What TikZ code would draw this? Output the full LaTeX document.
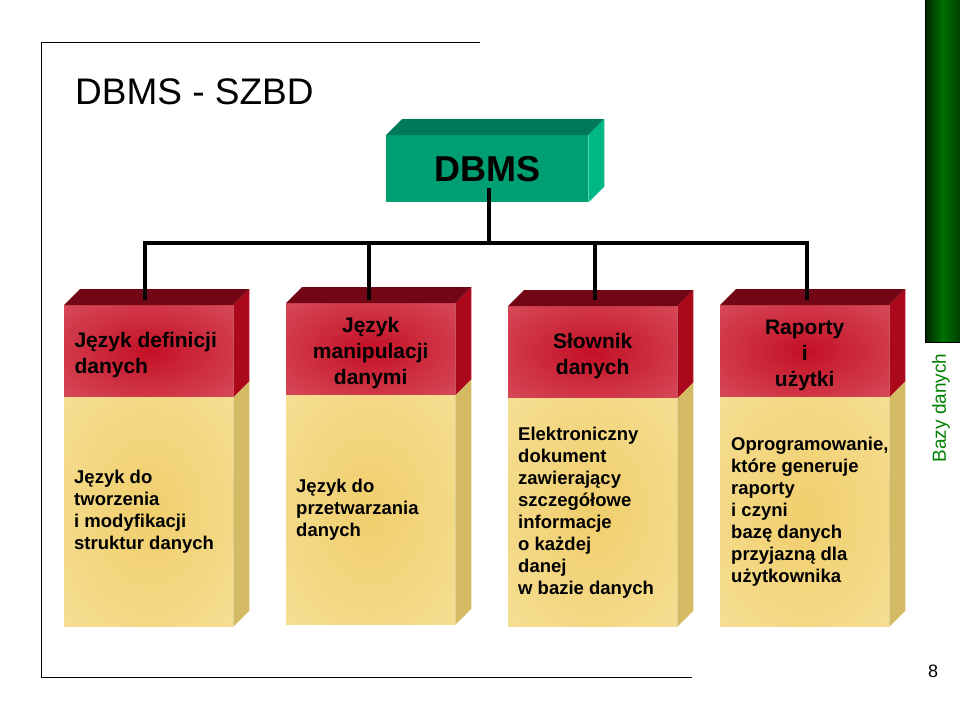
\documentclass[tikz,border=0pt]{standalone}
\usepackage{fontspec}
\setmainfont{Liberation Sans}
\usetikzlibrary{positioning,calc}

\definecolor{dbmsfront}{RGB}{0,158,115}
\definecolor{dbmstop}{RGB}{0,120,90}
\definecolor{dbmsside}{RGB}{0,184,134}
\definecolor{redmid}{RGB}{196,16,38}
\definecolor{redout}{RGB}{214,74,88}
\definecolor{redtop}{RGB}{115,6,20}
\definecolor{redside}{RGB}{172,8,28}
\definecolor{yelmid}{RGB}{240,206,108}
\definecolor{yelout}{RGB}{246,223,150}
\definecolor{yelside}{RGB}{212,186,98}
\definecolor{bardark}{RGB}{0,34,0}
\definecolor{barlight}{RGB}{0,112,0}
\definecolor{sidetext}{RGB}{0,128,0}

\pgfdeclareradialshading{redglow}{\pgfpoint{0bp}{0bp}}{color(0bp)=(redmid); color(36bp)=(redout); color(50bp)=(redout)}
\pgfdeclareradialshading{yelglow}{\pgfpoint{0bp}{0bp}}{color(0bp)=(yelmid); color(38bp)=(yelout); color(50bp)=(yelout)}

\tikzset{
  frame/.style={line width=1pt},
  conn/.style={line width=3.6pt, line join=miter},
  dbmsbox/.style={fill=dbmsfront, minimum width=202pt, minimum height=67pt,
    inner sep=0pt, anchor=north west, font=\bfseries\fontsize{36}{40}\selectfont},
  headbox/.style={shade, shading=redglow, minimum width=169pt, minimum height=92pt,
    inner sep=0pt, anchor=north west},
  headtext/.style={font=\bfseries\fontsize{21}{26}\selectfont, inner sep=0pt},
  bodybox/.style={shade, shading=yelglow, minimum width=169pt, minimum height=229pt,
    inner sep=0pt, anchor=north west},
  bodytext/.style={font=\bfseries\fontsize{18.5}{22}\selectfont, align=left,
    anchor=west, inner sep=0pt},
}

\begin{document}
\begin{tikzpicture}[x=1pt,y=-1pt]
  \useasboundingbox (0,0) rectangle (960,720);

  % frame and side bar
  \draw[frame] (480,42) -- (41,42) -- (41,677) -- (692,677);
  \shade[left color=bardark, right color=bardark!60!barlight, middle color=barlight]
    (925,0) rectangle (960,342);
  \draw[frame] (925,0) -- (925,342) -- (960,342);
  \node[rotate=90, text=sidetext, font=\fontsize{19}{22}\selectfont] (side) at (941,408) {Bazy danych};
  \node[font=\fontsize{18}{20}\selectfont] (page) at (933,671) {8};

  \node[anchor=base west, inner sep=0pt, font=\fontsize{37}{44}\selectfont] (title) at (75,104) {DBMS - SZBD};

  % top box
  \node[dbmsbox] (dbms) at (386,135) {DBMS};
  \fill[dbmstop] (dbms.north west) -- ++(16,-16) -- ([shift={(16,-16)}]dbms.north east) -- (dbms.north east) -- cycle;
  \fill[dbmsside] (dbms.north east) -- ++(16,-16) -- ([shift={(16,-16)}]dbms.south east) -- (dbms.south east) -- cycle;

  % four boxes
  \node[headbox] (h1) at (64,305) {};
  \node[bodybox] (b1) at (h1.south west) {};
  \node[headbox] (h2) at (286,303) {};
  \node[bodybox] (b2) at (h2.south west) {};
  \node[headbox] (h3) at (508,306) {};
  \node[bodybox, minimum height=228pt] (b3) at (h3.south west) {};
  \node[headbox] (h4) at (720,305) {};
  \node[bodybox] (b4) at (h4.south west) {};

  \fill[redtop] (h1.north west) -- ++(16,-16) -- ([shift={(16,-16)}]h1.north east) -- (h1.north east) -- cycle;
  \fill[redside] (h1.north east) -- ++(16,-16) -- ([shift={(16,-16)}]h1.south east) -- (h1.south east) -- cycle;
  \fill[yelside] (b1.north east) -- ++(16,-16) -- ([shift={(16,-16)}]b1.south east) -- (b1.south east) -- cycle;
  \fill[redtop] (h2.north west) -- ++(16,-16) -- ([shift={(16,-16)}]h2.north east) -- (h2.north east) -- cycle;
  \fill[redside] (h2.north east) -- ++(16,-16) -- ([shift={(16,-16)}]h2.south east) -- (h2.south east) -- cycle;
  \fill[yelside] (b2.north east) -- ++(16,-16) -- ([shift={(16,-16)}]b2.south east) -- (b2.south east) -- cycle;
  \fill[redtop] (h3.north west) -- ++(16,-16) -- ([shift={(16,-16)}]h3.north east) -- (h3.north east) -- cycle;
  \fill[redside] (h3.north east) -- ++(16,-16) -- ([shift={(16,-16)}]h3.south east) -- (h3.south east) -- cycle;
  \fill[yelside] (b3.north east) -- ++(16,-16) -- ([shift={(16,-16)}]b3.south east) -- (b3.south east) -- cycle;
  \fill[redtop] (h4.north west) -- ++(16,-16) -- ([shift={(16,-16)}]h4.north east) -- (h4.north east) -- cycle;
  \fill[redside] (h4.north east) -- ++(16,-16) -- ([shift={(16,-16)}]h4.south east) -- (h4.south east) -- cycle;
  \fill[yelside] (b4.north east) -- ++(16,-16) -- ([shift={(16,-16)}]b4.south east) -- (b4.south east) -- cycle;

  \node[headtext, align=left] (l1) at ($(h1.center)+(-3,4)$) {Język definicji\\danych};
  \node[headtext, align=center] (l2) at ($(h2.center)+(0,4)$) {Język\\manipulacji\\danymi};
  \node[headtext, align=center] (l3) at ($(h3.center)+(0,4)$) {Słownik\\danych};
  \node[headtext, align=center] (l4) at ($(h4.center)+(0,4)$) {Raporty\\i\\użytki};

  \node[bodytext] (t1) at ($(b1.west)+(10,0)$) {Język do\\tworzenia\\i modyfikacji\\struktur danych};
  \node[bodytext] (t2) at ($(b2.west)+(10,0)$) {Język do\\przetwarzania\\danych};
  \node[bodytext] (t3) at ($(b3.west)+(10,0)$) {Elektroniczny\\dokument\\zawierający\\szczegółowe\\informacje\\o każdej\\danej\\w bazie danych};
  \node[bodytext] (t4) at ($(b4.west)+(11,0)$) {Oprogramowanie,\\które generuje\\raporty\\i czyni\\bazę danych\\przyjazną dla\\użytkownika};

  % connectors
  \coordinate (hub) at ([shift={(2,-14)}]dbms.south);
  \coordinate (bus) at (0,243);
  \coordinate (in1) at ([shift={(-4,-5)}]h1.north);
  \coordinate (in2) at ([shift={(-2,-3)}]h2.north);
  \coordinate (in3) at ([shift={(2,-6)}]h3.north);
  \coordinate (in4) at ([shift={(2,-5)}]h4.north);
  \draw[conn] (hub) -- (hub |- bus);
  \draw[conn] (in1) -- (in1 |- bus) -- (in4 |- bus) -- (in4);
  \draw[conn] (in2) -- (in2 |- bus);
  \draw[conn] (in3) -- (in3 |- bus);
\end{tikzpicture}
\end{document}
